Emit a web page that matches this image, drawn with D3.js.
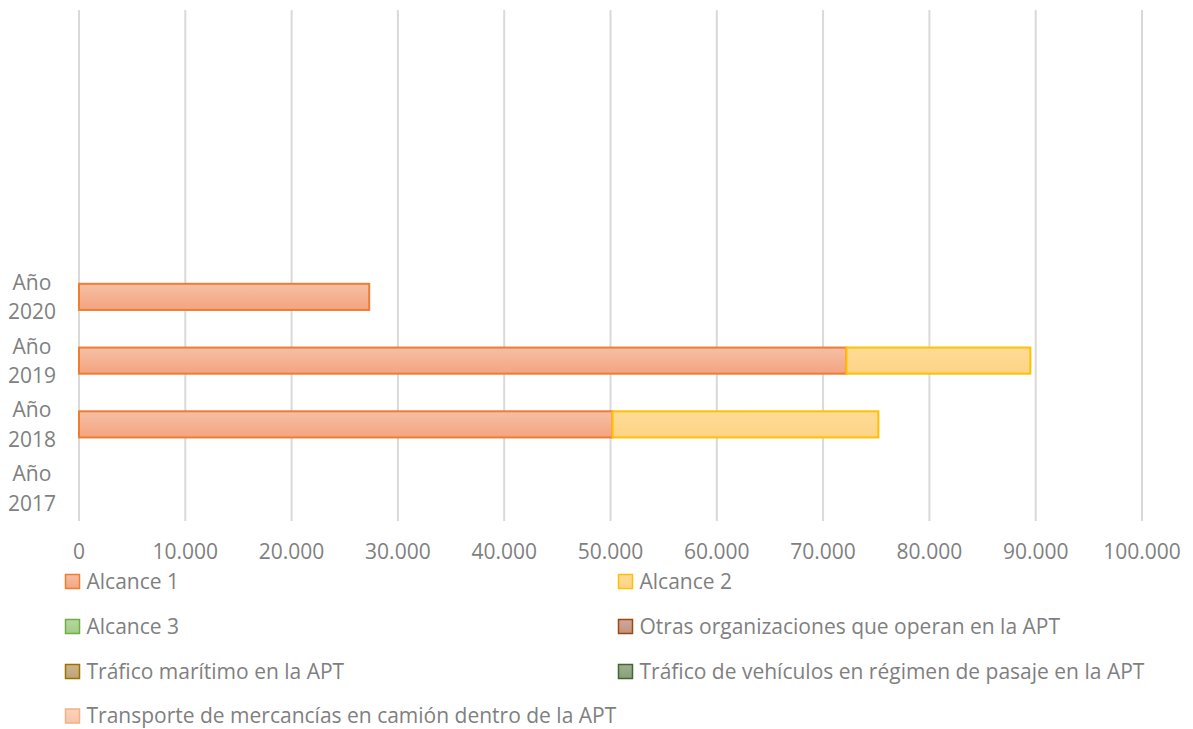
<!DOCTYPE html>
<html>
<head>
<meta charset="utf-8">
<script src="https://cdn.jsdelivr.net/npm/d3@7"></script>
<style>
  html, body { margin: 0; padding: 0; background: #fff; }
  svg { display: block; font-family: "Open Sans", "Noto Sans", sans-serif; }
</style>
</head>
<body>
<svg id="chart" width="1193" height="729"></svg>
<script>
// Years shown on the category axis (bottom to top)
const years = ["Año 2017", "Año 2018", "Año 2019", "Año 2020"];
// Emission series, one value per year (t CO2e)
const seriesNames = [
  "Alcance 1",
  "Alcance 2",
  "Alcance 3",
  "Otras organizaciones que operan en la APT",
  "Tráfico marítimo en la APT",
  "Tráfico de vehículos en régimen de pasaje en la APT",
  "Transporte de mercancías en camión dentro de la APT"
];
const alcance1 = [0, 50200, 72200, 27300];
const alcance2 = [0, 25000, 17300, 0];
const alcance3 = [0, 0, 0, 0];
const otras = [0, 0, 0, 0];
const maritimo = [0, 0, 0, 0];
const vehiculos = [0, 0, 0, 0];
const camion = [0, 0, 0, 0];
const xTicks = [0, 10000, 20000, 30000, 40000, 50000, 60000, 70000, 80000, 90000, 100000];

const seriesValues = [alcance1, alcance2, alcance3, otras, maritimo, vehiculos, camion];
const fills = [
  ["#F6BFA5", "#F3A480"],
  ["#FEDB96", "#FDD486"],
  ["#B6D89F", "#A2CC86"],
  ["#D0A89A", "#C19383"],
  ["#CDB48D", "#BFA376"],
  ["#9DAF90", "#8A9E7C"],
  ["#FAD3BC", "#F7C5A8"]
];
const strokes = ["#ED7D31", "#FFC000", "#70AD47", "#9E480E", "#997300", "#43682B", "#F4B183"];

const svg = d3.select("#chart");
const margin = { left: 79, right: 51, top: 10, bottom: 209 };
const W = 1193, H = 729;

// Build per-year table for stacking
const table = years.map((y, i) => {
  const row = { year: y };
  seriesNames.forEach((s, k) => row[s] = seriesValues[k][i]);
  return row;
});
const stacked = d3.stack().keys(seriesNames)(table);

const x = d3.scaleLinear().domain([0, 100000]).range([margin.left, W - margin.right]);
// Eight category slots; the upper four are left unlabeled and empty
const slots = years.concat(["s5", "s6", "s7", "s8"]);
const y = d3.scaleBand().domain(slots).range([H - margin.bottom, margin.top]).paddingInner(0.59).paddingOuter(0.295);

// Gradients
const defs = svg.append("defs");
fills.forEach((f, k) => {
  const g = defs.append("linearGradient").attr("id", "g" + k)
    .attr("x1", 0).attr("y1", 0).attr("x2", 0).attr("y2", 1);
  g.append("stop").attr("offset", "0%").attr("stop-color", f[0]);
  g.append("stop").attr("offset", "100%").attr("stop-color", f[1]);
});

// Vertical gridlines
svg.append("g").selectAll("line").data(xTicks).join("line")
  .attr("x1", d => x(d)).attr("x2", d => x(d))
  .attr("y1", margin.top).attr("y2", H - margin.bottom + 1)
  .attr("stroke", "#D9D9D9").attr("stroke-width", 2);

// Bars
const layer = svg.append("g");
stacked.forEach((s, k) => {
  layer.append("g").selectAll("rect").data(s.filter(d => d[1] - d[0] > 0)).join("rect")
    .attr("x", d => x(d[0]))
    .attr("width", d => x(d[1]) - x(d[0]))
    .attr("y", d => y(d.data.year))
    .attr("height", y.bandwidth())
    .attr("fill", `url(#g${k})`)
    .attr("stroke", strokes[k])
    .attr("stroke-width", 2);
});

// X axis labels
const fmt = v => d3.format(",")(v).replace(/,/g, ".");
svg.append("g").selectAll("text").data(xTicks).join("text")
  .attr("x", d => x(d)).attr("y", 559)
  .attr("text-anchor", "middle")
  .attr("font-size", 21).attr("fill", "#7F7F7F")
  .text(d => fmt(d));

// Y axis labels (two lines)
const ylab = svg.append("g").selectAll("text").data(years).join("text")
  .attr("text-anchor", "middle")
  .attr("font-size", 21).attr("fill", "#7F7F7F");
ylab.each(function(d) {
  const cy = y(d) + y.bandwidth() / 2;
  const parts = d.split(" ");
  const t = d3.select(this);
  t.append("tspan").attr("x", 32).attr("y", cy - 7).text(parts[0]);
  t.append("tspan").attr("x", 32).attr("y", cy + 22.5).text(parts[1]);
});

// Legend (two columns)
const legendPos = [
  [65.5, 581.5], [618.5, 581.5],
  [65.5, 626.5], [618.5, 626.5],
  [65.5, 671.5], [618.5, 671.5],
  [65.5, 716]
];
const lg = svg.append("g").selectAll("g").data(seriesNames).join("g")
  .attr("transform", (d, i) => `translate(${legendPos[i][0]},${legendPos[i][1]})`);
lg.append("rect")
  .attr("x", 0).attr("y", -7).attr("width", 14).attr("height", 14)
  .attr("fill", (d, i) => `url(#g${i})`)
  .attr("stroke", (d, i) => strokes[i]).attr("stroke-width", 1.5);
lg.append("text")
  .attr("x", 21).attr("y", 7)
  .attr("font-size", 21).attr("fill", "#7F7F7F")
  .text(d => d);
</script>
</body>
</html>
